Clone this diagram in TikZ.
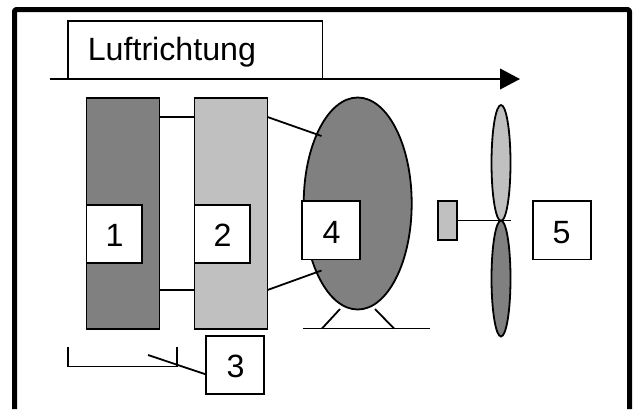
\documentclass[tikz,border=0pt]{standalone}
\usepackage{fontspec}
\setmainfont{Liberation Sans}
\usetikzlibrary{shapes.geometric,arrows.meta}
\definecolor{darkfill}{HTML}{808080}
\definecolor{lightfill}{HTML}{C0C0C0}
\tikzset{
  x=1bp,y=-1bp,
  every node/.style={outer sep=0pt,inner sep=0pt},
  ln/.style={line width=1.8bp,draw=black},
  block/.style={ln,rectangle,minimum width=#1},
  numbox/.style={ln,rectangle,fill=white,minimum width=58bp,minimum height=58.5bp,
    font=\fontsize{32.2bp}{36bp}\selectfont},
  digit/.style={font=\fontsize{32.2bp}{36bp}\selectfont,anchor=base},
  blade/.style={ln,ellipse,minimum width=19bp,minimum height=116bp},
}
\begin{document}
\begin{tikzpicture}
\useasboundingbox (0,0) rectangle (635,409);
\fill[white] (0,0) rectangle (635,409);
% frame
\draw[line width=5bp,line join=round,rounded corners=2bp] (14.5,409) -- (14.5,9.5) -- (629.5,9.5) -- (629.5,409);
% air direction
\coordinate (arrowstart) at (49.5,79);
\coordinate (arrowend) at (520,79);
\draw[line width=2bp,-{Triangle[length=20bp,width=20.6bp]}] (arrowstart) -- (arrowend);
\node[ln,rectangle,fill=white,minimum width=254.5bp,minimum height=58bp] (air) at (195.25,50) {};
\node[digit,anchor=base west] (airlabel) at (87.8,60.7) {Luftrichtung};
% blocks
\node[block=73bp,minimum height=231bp,fill=darkfill] (rone) at (123,213.5) {};
\node[block=73bp,minimum height=231bp,fill=lightfill] (rtwo) at (231,213.5) {};
\coordinate (upper) at (0,117);
\coordinate (lower) at (0,290);
\draw[ln] (rone.east |- upper) -- (rtwo.west |- upper);
\draw[ln] (rone.east |- lower) -- (rtwo.west |- lower);
% tank
\coordinate (footL) at (322,328.5);
\coordinate (footLt) at (340,309);
\coordinate (footR) at (394,328.5);
\coordinate (footRt) at (375,309);
\coordinate (baseend) at (430,328.5);
\coordinate (basestart) at (303,328.5);
\coordinate (tankU) at (321.5,136);
\coordinate (tankL) at (321.5,270.5);
\node[ln,ellipse,fill=darkfill,minimum width=108bp,minimum height=212bp] (tank) at (357.7,203.5) {};
\draw[ln] (rtwo.east |- upper) -- (tankU);
\draw[ln] (rtwo.east |- lower) -- (tankL);
\draw[ln] (footLt) -- (footL);
\draw[ln] (footRt) -- (footR);
\draw[ln] (basestart) -- (baseend);
% propeller
\node[ln,rectangle,fill=lightfill,minimum width=19bp,minimum height=39bp] (hub) at (447.5,220.5) {};
\node[blade,fill=lightfill] (bladeU) at (501,163) {};
\node[blade,fill=darkfill] (bladeL) at (501,278.5) {};
\coordinate (shaftend) at (511,220.5);
\draw[ln] (hub.east) -- (shaftend);
% bracket
\coordinate (brA) at (68,347);
\coordinate (brB) at (68,366.5);
\coordinate (brC) at (177,366.5);
\coordinate (brD) at (177,347);
\coordinate (brLine) at (148,355);
\draw[ln] (brA) -- (brB) -- (brC) -- (brD);
% number boxes
\node[numbox,minimum width=55.5bp] (n1) at (114.25,234) {};
\node[numbox,minimum width=55.5bp] (n2) at (222.25,234) {};
\node[numbox] (n3) at (235.25,365) {};
\node[numbox] (n4) at (331.25,230.25) {};
\node[numbox] (n5) at (561.75,230.25) {};
\node[digit] (d1) at (114.5,246.7) {1};
\node[digit] (d2) at (222.5,246.7) {2};
\node[digit] (d3) at (235.5,377.3) {3};
\node[digit] (d4) at (331.5,243.3) {4};
\node[digit] (d5) at (561.5,243.3) {5};
\draw[ln] (brLine) -- (n3.west |- 0,374.5);
\end{tikzpicture}
\end{document}
